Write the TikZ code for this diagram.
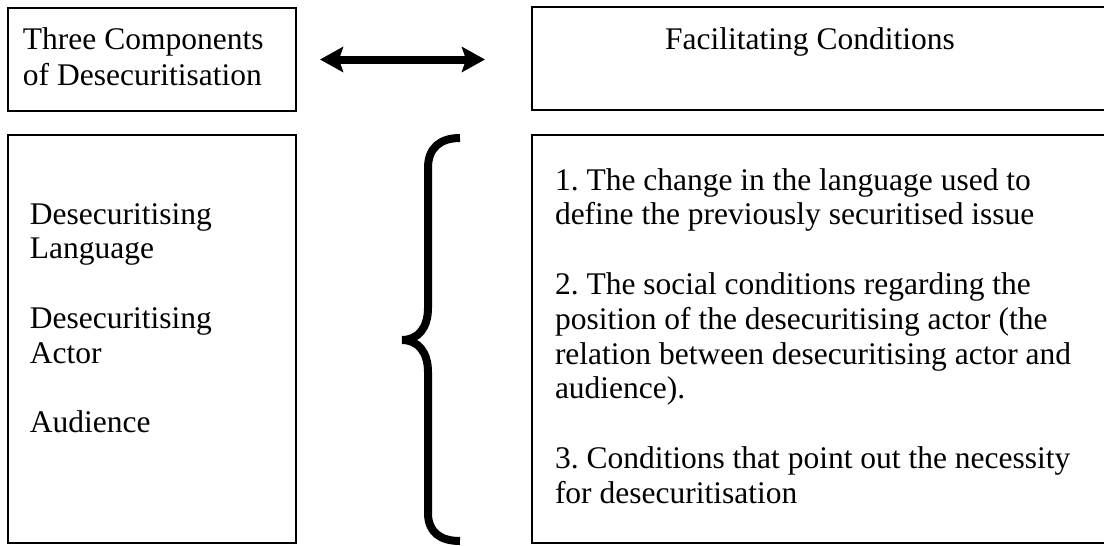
\documentclass[tikz,border=0pt]{standalone}
\usepackage{fontspec}
\setmainfont{Liberation Serif}
\usetikzlibrary{arrows.meta,calc}
\frenchspacing
\begin{document}
\begin{tikzpicture}[x=1pt,y=-1pt,
  frame/.style={draw, line width=2.2pt, inner sep=0pt, outer sep=0pt, anchor=north west},
  txt/.style={anchor=base west, inner sep=0pt, outer sep=0pt, font=\fontsize{31.5}{35}\selectfont},
  ctxt/.style={txt, anchor=base},
  bigtip/.tip={Stealth[length=23pt,width=25pt,inset=4pt]},
  twoway/.style={line width=8pt, bigtip-bigtip},
  bracestroke/.style={line width=8pt, line cap=butt}]
\useasboundingbox[fill=white] (0,0) rectangle (1104,546);

% frames
\node[frame, minimum width=288pt, minimum height=103pt] (compHead) at (8,8) {};
\node[frame, minimum width=573pt, minimum height=103pt] (condHead) at (532,7) {};
\node[frame, minimum width=288pt, minimum height=408pt] (compBody) at (8,135) {};
\node[frame, minimum width=573pt, minimum height=408pt] (condBody) at (532,135) {};

% headings
\node[txt] (compT1) at (23,49) {Three Components};
\node[txt] (compT2) at (23,85) {of Desecuritisation};
\node[ctxt] (condT) at (810,49) {Facilitating Conditions};

% two-way arrow between the headings
\draw[twoway, shorten <=24pt, shorten >=47pt] (compHead.east) -- (compHead.east -| condHead.west);

% components
\node[txt] (langA) at (30,224) {Desecuritising};
\node[txt] (langB) at (30,258.8) {Language};
\node[txt] (actA) at (30,328.4) {Desecuritising};
\node[txt] (actB) at (30,363.2) {Actor};
\node[txt] (aud) at (30,432.8) {Audience};

% conditions
\node[txt] (c1a) at (555,190) {1. The change in the language used to};
\node[txt] (c1b) at (555,224.8) {define the previously securitised issue};
\node[txt] (c2a) at (555,294.4) {2. The social conditions regarding the};
\node[txt] (c2b) at (555,329.2) {position of the desecuritising actor (the};
\node[txt] (c2c) at (555,364) {relation between desecuritising actor and};
\node[txt] (c2d) at (555,398.8) {audience).};
\node[txt] (c3a) at (555,468.4) {3. Conditions that point out the necessity};
\node[txt] (c3b) at (555,503.2) {for desecuritisation};

% curly brace
\draw[bracestroke] (460,138) .. controls (440,138) and (428,148) .. (428,168)
  -- (428,308) .. controls (428,328) and (418,340) .. (402,340)
  .. controls (418,340) and (428,352) .. (428,372)
  -- (428,513) .. controls (428,532) and (440,541) .. (460,541);
\end{tikzpicture}
\end{document}
